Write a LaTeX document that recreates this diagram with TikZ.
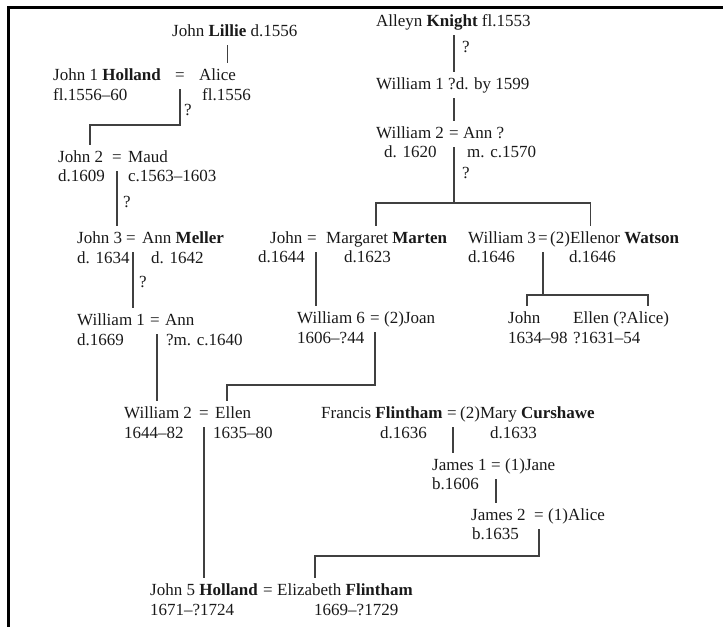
\documentclass[tikz,border=0pt]{standalone}
\usepackage{fontspec}
\setmainfont{Liberation Serif}
\usetikzlibrary{positioning}

\begin{document}
\begin{tikzpicture}[x=1pt,y=-1pt,font=\fontsize{17}{20}\selectfont,
    nm/.style={anchor=base west,inner sep=0pt,text height=12pt,text depth=4pt,text=black!90},
    tie/.style={draw=black!75,line width=1.6pt,shorten <=5pt,shorten >=5pt}]

    \useasboundingbox (0,0) rectangle (723,627);
    \draw[line width=3pt] (723,7) -- (8,7) -- (8,627);

    \node[nm] (lillie) at (172,36) {John \textbf{Lillie} d.1556};
    \node[nm] (hol1) at (53,80) {John 1 \textbf{Holland}};
    \node[nm] (e1) at (175,80) {=};
    \node[nm] (alice1) at (199,80) {Alice};
    \node[nm] (hol1d) at (53,100) {fl.1556--60};
    \node[nm] (alice1d) at (202,100) {fl.1556};
    \node[nm] (q1) at (184,115) {?};

    \node[nm] (john2) at (58,162) {John 2};
    \node[nm] (e2) at (112,162) {=};
    \node[nm] (maud) at (128,162) {Maud};
    \node[nm] (john2d) at (58,181) {d.1609};
    \node[nm] (maudd) at (128,181) {c.1563--1603};
    \node[nm] (q2) at (123,207) {?};

    \node[nm] (john3) at (77,243) {John 3};
    \node[nm] (e3) at (126,243) {=};
    \node[nm] (meller) at (142,243) {Ann \textbf{Meller}};
    \node[nm] (john3d) at (77,263) {d. 1634};
    \node[nm] (mellerd) at (151,263) {d. 1642};
    \node[nm] (q3) at (139,287) {?};

    \node[nm] (will1) at (77,325) {William 1};
    \node[nm] (e4) at (150,325) {=};
    \node[nm] (ann1) at (165,325) {Ann};
    \node[nm] (will1d) at (77,345) {d.1669};
    \node[nm] (ann1d) at (166,345) {?m. c.1640};

    \node[nm] (will2) at (124,418) {William 2};
    \node[nm] (e5) at (199,418) {=};
    \node[nm] (ellen) at (215,418) {Ellen};
    \node[nm] (will2d) at (124,438) {1644--82};
    \node[nm] (ellend) at (213,438) {1635--80};

    \node[nm] (john5) at (150,595) {John 5 \textbf{Holland}};
    \node[nm] (e6) at (263,595) {=};
    \node[nm] (eliz) at (277,595) {Elizabeth \textbf{Flintham}};
    \node[nm] (john5d) at (150,615) {1671--?1724};
    \node[nm] (elizd) at (314,615) {1669--?1729};

    \node[nm] (knight) at (376,26) {Alleyn \textbf{Knight} fl.1553};
    \node[nm] (q4) at (462,52) {?};
    \node[nm] (rwill1) at (376,89) {William 1 ?d. by 1599};
    \node[nm] (rwill2) at (376,138) {William 2};
    \node[nm] (e7) at (449,138) {=};
    \node[nm] (rann) at (463,138) {Ann ?};
    \node[nm] (rwill2d) at (384,157) {d. 1620};
    \node[nm] (rannd) at (467,157) {m. c.1570};
    \node[nm] (q5) at (462,178) {?};

    \node[nm] (john) at (270,243) {John};
    \node[nm] (e8) at (307,243) {=};
    \node[nm] (marten) at (326,243) {Margaret \textbf{Marten}};
    \node[nm] (johnd) at (258,262) {d.1644};
    \node[nm] (martend) at (344,262) {d.1623};

    \node[nm] (will3) at (468,243) {William 3};
    \node[nm] (e9) at (538,243) {=};
    \node[nm] (watson) at (550,243) {(2)Ellenor \textbf{Watson}};
    \node[nm] (will3d) at (468,262) {d.1646};
    \node[nm] (watsond) at (569,262) {d.1646};

    \node[nm] (will6) at (297,323) {William 6};
    \node[nm] (e10) at (370,323) {=};
    \node[nm] (joan) at (384,323) {(2)Joan};
    \node[nm] (will6d) at (297,343) {1606--?44};

    \node[nm] (johnc) at (508,323) {John};
    \node[nm] (ellenc) at (573,323) {Ellen (?Alice)};
    \node[nm] (johncd) at (508,343) {1634--98};
    \node[nm] (ellencd) at (573,343) {?1631--54};

    \node[nm] (flint) at (321,418) {Francis \textbf{Flintham}};
    \node[nm] (e11) at (447,418) {=};
    \node[nm] (mary) at (460,418) {(2)Mary \textbf{Curshawe}};
    \node[nm] (flintd) at (380,438) {d.1636};
    \node[nm] (maryd) at (490,438) {d.1633};

    \node[nm] (james1) at (432,470) {James 1};
    \node[nm] (e12) at (491,470) {=};
    \node[nm] (jane) at (505,470) {(1)Jane};
    \node[nm] (james1d) at (432,489) {b.1606};

    \node[nm] (james2) at (471,520) {James 2};
    \node[nm] (e13) at (534,520) {=};
    \node[nm] (alice2) at (548,520) {(1)Alice};
    \node[nm] (james2d) at (472,539) {b.1635};

    \coordinate (k1) at (90,125);
    \coordinate (k2) at (456,203);
    \coordinate (k3) at (543,295);
    \coordinate (k4) at (300,385);
    \coordinate (k5) at (400,556);

    \draw[tie] ([xshift=10pt]alice1.north |- lillie.south) -- ([xshift=10pt]alice1.north);
    \draw[tie] (e1.south) |- (k1) -- (k1 |- john2.north);
    \draw[tie] (e2.south) -- (e2.south |- john3.north);
    \draw[tie] ([xshift=2pt]e3.south) -- ([xshift=2pt]e3.south |- will1.north);
    \draw[tie] ([xshift=2pt]e4.south) -- ([xshift=2pt]e4.south |- will2.north);
    \draw[tie] (e5.south) -- (e5.south |- john5.north);

    \draw[tie] (knight.south -| e7.south) -- (rwill1.north -| e7.south);
    \draw[tie] (rwill1.south -| e7.south) -- (rwill2.north -| e7.south);
    \draw[tie,shorten >=0pt] (e7.south) -- (e7.south |- k2);
    \draw[tie] ([xshift=-11pt]marten.north) |- (k2) -| ([xshift=-24pt]watson.north);

    \draw[tie] ([xshift=4pt]e8.south) -- ([xshift=4pt]e8.south |- will6.north);
    \draw[tie,shorten >=0pt] (e9.south) -- (e9.south |- k3);
    \draw[tie] ([xshift=3pt]johnc.north) |- (k3) -| ([xshift=27pt]ellenc.north);
    \draw[tie] (e10.south) |- (k4) -| ([xshift=-6pt]ellen.north);

    \draw[tie] ([xshift=1pt]e11.south) -- ([xshift=1pt]e11.south |- james1.north);
    \draw[tie] (e12.south) -- (e12.south |- james2.north);
    \draw[tie] (e13.south) |- (k5) -| ([xshift=-30pt]eliz.north);

\end{tikzpicture}
\end{document}
